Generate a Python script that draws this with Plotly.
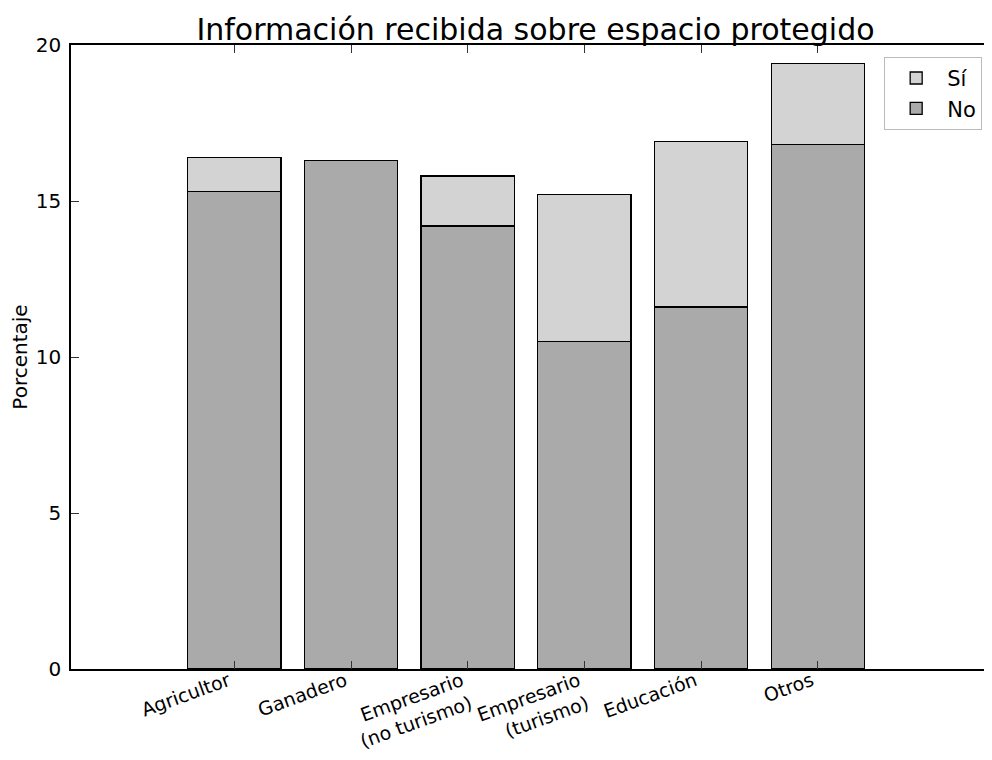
import plotly.graph_objects as go

# categories and percentages
categorias = ['Agricultor', 'Ganadero', 'Empresario<br>(no turismo)',
              'Empresario<br>(turismo)', 'Educación', 'Otros']
pos = [0, 1, 2, 3, 4, 5]
no_vals = [15.3, 16.3, 14.2, 10.5, 11.6, 16.8]
si_vals = [1.1, 0.0, 1.6, 4.7, 5.3, 2.6]
y_ticks = [0, 5, 10, 15, 20]

FONT = 'DejaVu Sans'
W, H = 976, 744  # page body adds an 8px margin around the figure

fig = go.Figure()
fig.add_trace(go.Bar(x=pos, y=no_vals, name='No', width=0.8,
                     marker=dict(color='#aaaaaa', line=dict(color='black', width=1.3))))
fig.add_trace(go.Bar(x=pos, y=si_vals, name='Sí', width=0.8,
                     marker=dict(color='#d3d3d3', line=dict(color='black', width=1.3))))

fig.update_layout(
    barmode='stack',
    width=W, height=H,
    margin=dict(l=63, r=0, t=37, b=83),
    paper_bgcolor='white', plot_bgcolor='white',
    font=dict(family=FONT, color='black', size=20),
    title=dict(text='Información recibida sobre espacio protegido',
               font=dict(size=30, family=FONT, color='black'),
               x=527.5 / W, xanchor='center', xref='container',
               y=1 - 11 / H, yanchor='top', yref='container'),
    legend=dict(x=0.998, y=0.981, xanchor='right', yanchor='top',
                bgcolor='white', bordercolor='#bbbbbb', borderwidth=1,
                font=dict(size=21, family=FONT), traceorder='reversed',
                itemwidth=52),
    hovermode=False,
)

fig.update_xaxes(range=[-1.40, 6.424], tickvals=pos, ticktext=categorias,
                 tickangle=-20, ticks='inside', ticklen=8, tickcolor='#333333',
                 showline=True, linecolor='black', linewidth=1.5, mirror='ticks',
                 showgrid=False, zeroline=False, tickfont=dict(size=19),
                 ticklabelshift=-6, ticklabelstandoff=-8, automargin=False)
fig.update_yaxes(range=[0, 20], tickvals=y_ticks, ticks='inside', ticklen=8,
                 tickcolor='#333333', showline=True, linecolor='black', linewidth=1.5,
                 showgrid=False, zeroline=False, tickfont=dict(size=20),
                 ticklabelstandoff=4, automargin=False,
                 title=dict(text='Porcentaje', font=dict(size=20, family=FONT), standoff=6))

fig.write_html("out.html")
